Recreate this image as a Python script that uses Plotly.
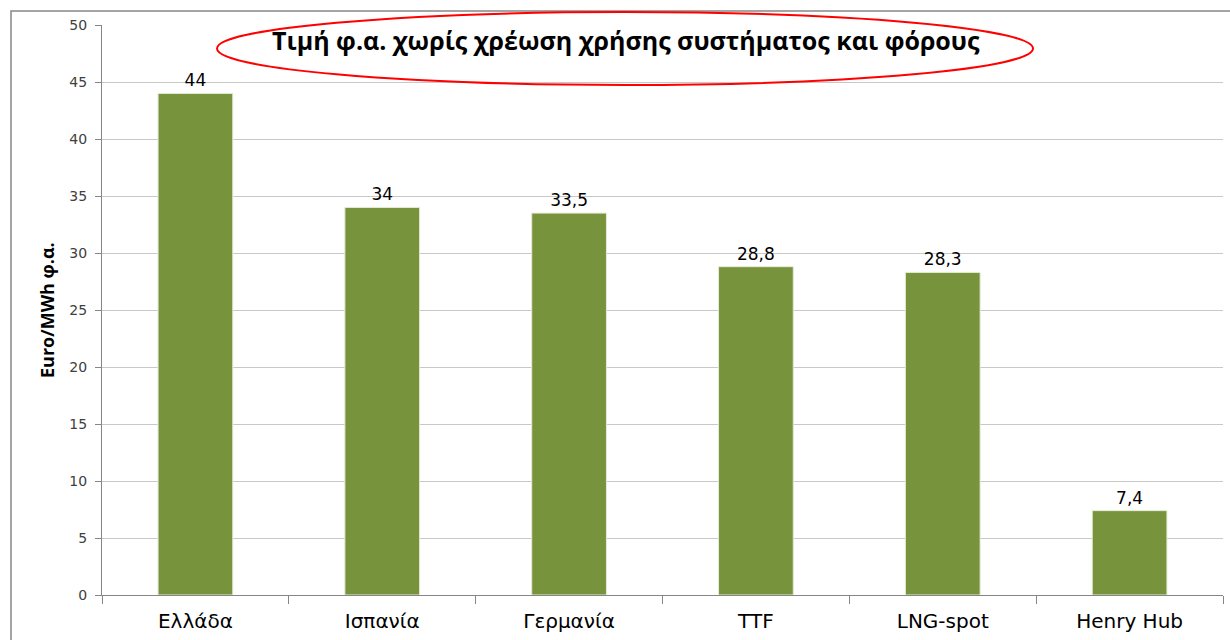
import plotly.graph_objects as go

categories = ["Ελλάδα", "Ισπανία", "Γερμανία", "TTF", "LNG-spot", "Henry Hub"]
values = [44, 34, 33.5, 28.8, 28.3, 7.4]
y_ticks = [0, 5, 10, 15, 20, 25, 30, 35, 40, 45, 50]
title_text = "Τιμή φ.α. χωρίς χρέωση χρήσης συστήματος και φόρους"
y_title = "Euro/MWh φ.α."

labels = [("%g" % v).replace(".", ",") for v in values]

fig = go.Figure(go.Bar(
    x=categories, y=values, text=labels, textposition="outside",
    textfont=dict(family="DejaVu Sans, Verdana", size=17, color="#000000"),
    marker=dict(color="#77933C", line=dict(width=1, color="#E6EBD8")),
    cliponaxis=False, width=0.4,
))

L, R, T, B = 102, 7, 25, 45
W, H = 1230, 640
pw, ph = W - L - R, H - T - B

def px(x):
    return (x - L) / pw

def py(y):
    return 1 - (y - T) / ph

fig.update_layout(
    width=W, height=H,
    margin=dict(l=L, r=R, t=T, b=B),
    paper_bgcolor="white", plot_bgcolor="white",
    showlegend=False,
    bargap=0.6,
    xaxis=dict(
        showline=True, linecolor="#868686", linewidth=1,
        ticks="outside", ticklen=8, tickcolor="#868686", tickson="boundaries",
        tickfont=dict(family="DejaVu Sans, Verdana", size=20, color="#000000"),
        ticklabelstandoff=8,
        showgrid=False,
    ),
    yaxis=dict(
        range=[0, 50], tickvals=y_ticks,
        showline=True, linecolor="#868686", linewidth=1,
        ticks="outside", ticklen=6, tickcolor="#868686",
        tickfont=dict(family="DejaVu Sans, Verdana", size=14, color="#404040"),
        ticklabelstandoff=5,
        showgrid=True, gridcolor="#C8C8C8", gridwidth=1,
        zeroline=False,
    ),
    shapes=[
        dict(type="rect", xref="paper", yref="paper",
             x0=px(11), x1=px(1245), y0=py(11), y1=py(660),
             line=dict(color="#868686", width=1.5), fillcolor="rgba(0,0,0,0)"),
        dict(type="circle", xref="paper", yref="paper",
             x0=px(217), x1=px(1033), y0=py(85), y1=py(12),
             line=dict(color="#FF0000", width=2), fillcolor="rgba(0,0,0,0)"),
    ],
    annotations=[
        dict(text="<b>" + title_text + "</b>", xref="paper", yref="paper",
             x=px(626), y=py(40), showarrow=False, xanchor="center", yanchor="middle",
             font=dict(family="Open Sans, sans-serif", size=25, color="#000000")),
        dict(text="<b>" + y_title + "</b>", xref="paper", yref="paper",
             x=px(47), y=py(310), showarrow=False, textangle=-90,
             xanchor="center", yanchor="middle",
             font=dict(family="Open Sans, sans-serif", size=18, color="#000000")),
    ],
)

fig.write_html("out.html", config={"displayModeBar": False},
               post_script="document.body.style.margin='0';document.body.style.overflow='hidden';")
